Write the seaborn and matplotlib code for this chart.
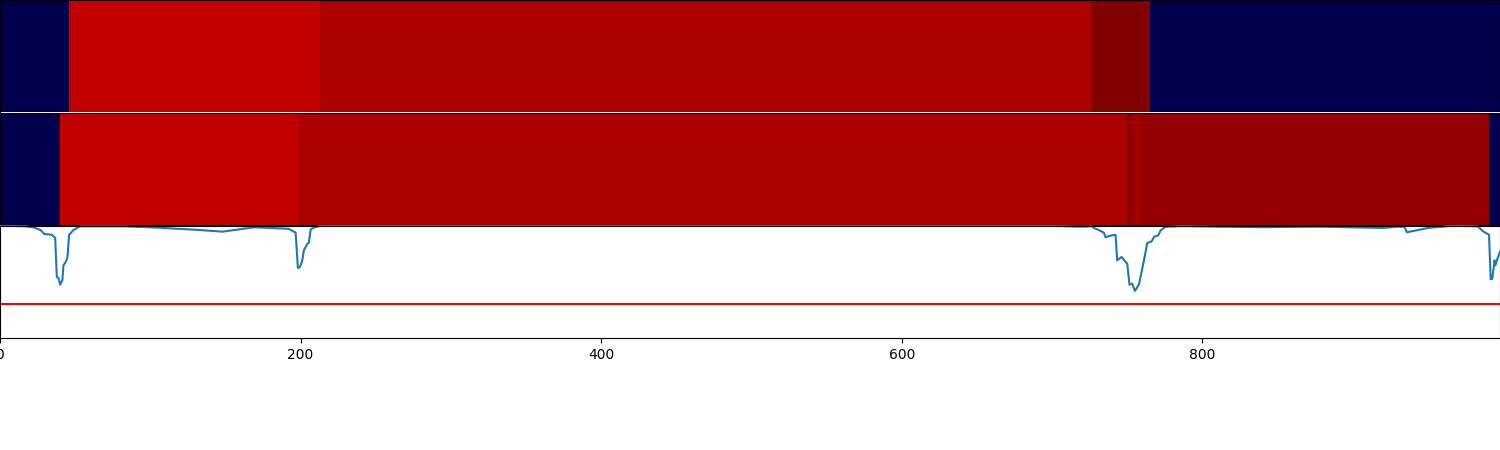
import numpy as np
import pandas as pd
import matplotlib
matplotlib.use("Agg")
import matplotlib.pyplot as plt
import seaborn as sns

# --- frame classes, as runs ---
n_frames = 998
top_values = [0.0, 0.865, 0.917, 1.0, 0.0]
top_runs = [46, 166, 514, 39, 233]
mid_values = [0.0, 0.865, 0.917, 1.0, 0.955, 0.917, 0.955, 0.0]
mid_runs = [40, 158, 552, 2, 3, 3, 233, 7]

# --- score curve ---
score_x = [0, 16.7, 22, 27, 29.5, 34.5, 36.7, 37.8, 38.9, 40, 41.5, 42.2, 43.8, 44.9, 46, 48.9, 53.3,
           82, 100, 133, 148, 169, 192, 196.7, 198.2, 199.5, 201, 202.2, 204.5, 205.5, 206.7, 210, 214.5,
           400, 700, 719, 726.7, 727.8, 731, 734.5, 735.5, 737.8, 742.2, 743.3, 746.2, 750, 751.5, 753.3,
           755.1, 757.8, 759.5, 761.1, 763.3, 766.2, 767.8, 770.7, 772.2, 775.5, 786,
           813, 840, 878, 920, 929, 934.4, 936, 951, 967, 983.3, 986.7, 990.7, 991.8, 992.9, 994.4, 994.9,
           996.7, 998]
score_y = [0.998, 0.993, 0.984, 0.96, 0.924, 0.918, 0.889, 0.542, 0.533, 0.474, 0.513, 0.646, 0.676, 0.72, 0.918, 0.96, 0.993,
           0.993, 0.984, 0.96, 0.945, 0.984, 0.971, 0.936, 0.622, 0.631, 0.682, 0.78, 0.838, 0.847, 0.966, 0.987, 0.998,
           0.998, 0.998, 0.989, 0.993, 0.978, 0.96, 0.936, 0.895, 0.907, 0.918, 0.69, 0.72, 0.66, 0.474, 0.483,
           0.418, 0.477, 0.587, 0.69, 0.844, 0.859, 0.898, 0.913, 0.957, 0.989, 0.995,
           0.989, 0.985, 0.99, 0.978, 0.989, 0.989, 0.94, 0.98, 0.998, 0.993, 0.948, 0.918, 0.522, 0.527, 0.69, 0.646,
           0.72, 0.764]
threshold = 0.3
xtick_values = [0, 200, 400, 600, 800]

top_row = np.repeat(top_values, top_runs).reshape(1, -1)
mid_row = np.repeat(mid_values, mid_runs).reshape(1, -1)
score_df = pd.DataFrame({"frame": score_x, "score": score_y})

fig, axes = plt.subplots(3, 1, figsize=(15, 4.5), dpi=100)
# panel edges in pixels from the top of the picture
for ax, (y0, y1) in zip(axes, [(0, 112), (113, 225.5), (225.5, 338)]):
    ax.set_position([0, 1 - y1 / 450, 1, (y1 - y0) / 450])

for ax, row in zip(axes[:2], [top_row, mid_row]):
    sns.heatmap(row, ax=ax, cmap="seismic", vmin=0, vmax=1, cbar=False,
                xticklabels=False, yticklabels=False)
    ax.set_xlim(0, n_frames)
    for spine in ax.spines.values():
        spine.set_visible(True)
axes[0].spines["bottom"].set_visible(False)

ax = axes[2]
sns.lineplot(data=score_df, x="frame", y="score", ax=ax, color="tab:blue", linewidth=1.5)
ax.axhline(threshold, color="red", linewidth=1.5)
ax.set_xlim(0, n_frames)
ax.set_ylim(0, 1)
ax.set_xticks(xtick_values)
ax.set_yticks([])
ax.set_xlabel("")
ax.set_ylabel("")

plt.savefig("out.png", dpi=100)
plt.close(fig)
